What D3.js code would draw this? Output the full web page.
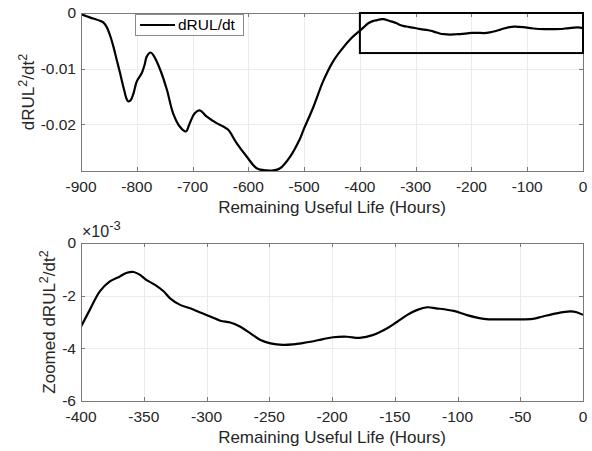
<!DOCTYPE html>
<html>
<head>
<meta charset="utf-8">
<script src="https://cdn.jsdelivr.net/npm/d3@7"></script>
<style>
  body { margin: 0; background: #fff; }
  svg { display: block; font-family: "Liberation Sans", Arial, Helvetica, sans-serif; }
</style>
</head>
<body>
<div id="chart"></div>
<script>
// remaining useful life (hours) and second derivative of RUL
const hours = [
  -900, -890, -878, -866, -860, -854, -848, -842, -836, -830, -823, -818, -815, -811, -806,
  -800, -791, -786, -782, -775, -769, -758, -746, -735, -723, -712, -705, -696, -687, -675,
  -657, -645, -636, -621, -603, -585, -567, -555, -543, -525, -507, -501, -483, -466, -448,
  -433, -415,
  -400, -393, -385, -377, -369, -364, -358, -353, -348, -341, -334, -329, -321, -313, -305,
  -297, -289, -281, -273, -265, -257, -249, -239, -231, -225, -217, -207, -199, -188, -178,
  -167, -156, -148, -140, -132, -124, -117, -103, -93, -79, -66, -53, -40, -32, -21, -10, -5, 0
];
const accel = [
  -0.0002, -0.0006, -0.0010, -0.0014, -0.0017, -0.0025, -0.0040, -0.0060, -0.0084, -0.0108, -0.0137, -0.0155, -0.0159, -0.0157, -0.0145,
  -0.0123, -0.0108, -0.0093, -0.0078, -0.0071, -0.0078, -0.0102, -0.0138, -0.0180, -0.0204, -0.0213, -0.0198, -0.0180, -0.0175, -0.0186,
  -0.0198, -0.0204, -0.0210, -0.0234, -0.0258, -0.0279, -0.0283, -0.0283, -0.0279, -0.0258, -0.0225, -0.0210, -0.0168, -0.0123, -0.0087,
  -0.0066, -0.0045,
  -0.00318, -0.00254, -0.00184, -0.00146, -0.00127, -0.00114, -0.00110, -0.00121, -0.00140, -0.00159, -0.00184, -0.00210, -0.00235, -0.00248, -0.00264,
  -0.00279, -0.00295, -0.00302, -0.00318, -0.00343, -0.00368, -0.00381, -0.00387, -0.00385, -0.00381, -0.00375, -0.00365, -0.00358, -0.00356, -0.00360,
  -0.00349, -0.00324, -0.00299, -0.00273, -0.00254, -0.00244, -0.00248, -0.00258, -0.00273, -0.00288, -0.00290, -0.00290, -0.00288, -0.00279, -0.00267, -0.00260, -0.00263, -0.00273
];

const topXTicks = [-900, -800, -700, -600, -500, -400, -300, -200, -100, 0];
const topYTicks = [0, -0.01, -0.02];
const zoomXTicks = [-400, -350, -300, -250, -200, -150, -100, -50, 0];
const zoomYTicks = [0, -0.002, -0.004, -0.006];
const zoomWindowX = [-400, 0];
const zoomWindowY = [-0.0072, 0];

const legendLabel = "dRUL/dt";
const xLabel = "Remaining Useful Life (Hours)";

const W = 592, H = 451;
const svg = d3.select("#chart").append("svg")
    .attr("width", W)
    .attr("height", H);

const data = hours.map((h, i) => ({ h: h, v: accel[i] }));

function drawPanel(opts) {
    const { left, right, top, bottom, xDomain, yDomain, xTicks, yTicks, yFormat, rows, id } = opts;

    const x = d3.scaleLinear().domain(xDomain).range([left, right]);
    const y = d3.scaleLinear().domain(yDomain).range([bottom, top]);

    const g = svg.append("g");

    // grid
    g.selectAll(".vgrid").data(xTicks).enter().append("line")
        .attr("x1", d => Math.round(x(d)) + 0.5).attr("x2", d => Math.round(x(d)) + 0.5)
        .attr("y1", top).attr("y2", bottom)
        .attr("stroke", "#ebebeb").attr("stroke-width", 1);
    g.selectAll(".hgrid").data(yTicks).enter().append("line")
        .attr("y1", d => Math.round(y(d)) + 0.5).attr("y2", d => Math.round(y(d)) + 0.5)
        .attr("x1", left).attr("x2", right)
        .attr("stroke", "#ebebeb").attr("stroke-width", 1);

    // clip
    svg.append("clipPath").attr("id", id)
      .append("rect")
        .attr("x", left).attr("y", top - 2)
        .attr("width", right - left).attr("height", bottom - top + 4);

    const line = d3.line()
        .x(d => x(d.h))
        .y(d => y(d.v))
        .curve(d3.curveCatmullRom.alpha(0.5));

    g.append("path")
        .datum(rows)
        .attr("clip-path", `url(#${id})`)
        .attr("fill", "none")
        .attr("stroke", "#000")
        .attr("stroke-width", 2.2)
        .attr("stroke-linejoin", "round")
        .attr("d", line);

    // box + inward ticks on all four sides
    const tickLen = 4;
    const axisColor = "#7a7a7a";
    g.append("rect")
        .attr("x", left + 0.5).attr("y", top + 0.5)
        .attr("width", right - left).attr("height", bottom - top)
        .attr("fill", "none").attr("stroke", axisColor).attr("stroke-width", 1);

    xTicks.forEach(t => {
        const px = Math.round(x(t)) + 0.5;
        g.append("line").attr("x1", px).attr("x2", px).attr("y1", bottom).attr("y2", bottom - tickLen)
            .attr("stroke", axisColor);
        g.append("line").attr("x1", px).attr("x2", px).attr("y1", top).attr("y2", top + tickLen)
            .attr("stroke", axisColor);
    });
    yTicks.forEach(t => {
        const py = Math.round(y(t)) + 0.5;
        g.append("line").attr("y1", py).attr("y2", py).attr("x1", left).attr("x2", left + tickLen)
            .attr("stroke", axisColor);
        g.append("line").attr("y1", py).attr("y2", py).attr("x1", right).attr("x2", right - tickLen)
            .attr("stroke", axisColor);
    });

    // tick labels
    g.selectAll(".xt").data(xTicks).enter().append("text")
        .attr("x", d => x(d))
        .attr("y", bottom + 21)
        .attr("text-anchor", "middle")
        .attr("font-size", 15.5)
        .attr("fill", "#262626")
        .text(d => d);

    g.selectAll(".yt").data(yTicks).enter().append("text")
        .attr("x", left - 5)
        .attr("y", d => y(d))
        .attr("dy", "0.35em")
        .attr("text-anchor", "end")
        .attr("font-size", 15.5)
        .attr("fill", "#262626")
        .text(yFormat);

    // x label
    g.append("text")
        .attr("x", (left + right) / 2)
        .attr("y", bottom + 42)
        .attr("text-anchor", "middle")
        .attr("font-size", 17)
        .attr("fill", "#262626")
        .text(xLabel);

    return { x, y, g };
}

function yLabel(g, cx, cy, prefix) {
    const t = g.append("text")
        .attr("transform", `translate(${cx},${cy}) rotate(-90)`)
        .attr("text-anchor", "middle")
        .attr("font-size", 17)
        .attr("fill", "#262626");
    t.append("tspan").text(prefix + "dRUL");
    t.append("tspan").attr("font-size", 12.5).attr("dy", -7).text("2");
    t.append("tspan").attr("dy", 7).text("/dt");
    t.append("tspan").attr("font-size", 12.5).attr("dy", -7).text("2");
}

// top panel
const p1 = drawPanel({
    id: "clipTop",
    left: 81, right: 583, top: 13, bottom: 171,
    xDomain: [-900, 0], yDomain: [-0.0284, 0],
    xTicks: topXTicks, yTicks: topYTicks,
    yFormat: d => d === 0 ? "0" : d3.format(".2f")(d).replace("−", "-"),
    rows: data
});
yLabel(p1.g, 34, 92, "");

// zoom window rectangle
p1.g.append("rect")
    .attr("x", p1.x(zoomWindowX[0]))
    .attr("y", p1.y(zoomWindowY[1]))
    .attr("width", p1.x(zoomWindowX[1]) - p1.x(zoomWindowX[0]))
    .attr("height", p1.y(zoomWindowY[0]) - p1.y(zoomWindowY[1]))
    .attr("fill", "none")
    .attr("stroke", "#000")
    .attr("stroke-width", 2);

// legend
const lg = p1.g.append("g");
lg.append("rect")
    .attr("x", 135.5).attr("y", 14.5).attr("width", 108).attr("height", 21)
    .attr("fill", "#fff").attr("stroke", "#8a8a8a").attr("stroke-width", 1);
lg.append("line")
    .attr("x1", 140).attr("x2", 175).attr("y1", 25).attr("y2", 25)
    .attr("stroke", "#000").attr("stroke-width", 2);
lg.append("text")
    .attr("x", 178).attr("y", 25).attr("dy", "0.35em")
    .attr("font-size", 15.5).attr("fill", "#000")
    .text(legendLabel);

// bottom panel
const p2 = drawPanel({
    id: "clipBottom",
    left: 81, right: 583, top: 243, bottom: 401,
    xDomain: [-400, 0], yDomain: [-0.006, 0],
    xTicks: zoomXTicks, yTicks: zoomYTicks,
    yFormat: d => String(Math.round(d * 1000)),
    rows: data.filter(d => d.h >= -400)
});
yLabel(p2.g, 55, 322, "Zoomed ");

// exponent label
const ex = p2.g.append("text")
    .attr("x", 82).attr("y", 237)
    .attr("font-size", 16).attr("fill", "#262626");
ex.append("tspan").text("\u00d710");
ex.append("tspan").attr("font-size", 13).attr("dy", -7).text("-3");
</script>
</body>
</html>
